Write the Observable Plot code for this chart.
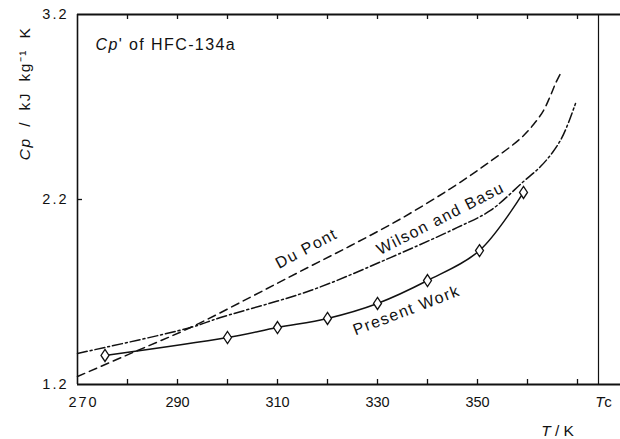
<!DOCTYPE html>
<html>
<head>
<meta charset="utf-8">
<script src="https://cdn.jsdelivr.net/npm/d3@7"></script>
<script src="https://cdn.jsdelivr.net/npm/@observablehq/plot@0.6"></script>
<style>
  html, body { margin: 0; padding: 0; background: #fff; }
  svg { display: block; }
</style>
</head>
<body>
<div id="chart"></div>
<script>
// ---- data ----
const duPontT  = [270, 281, 292.6, 304.6, 314.6, 324.6, 334.6, 344.6, 352, 358.6, 361.2, 363.2, 364.6, 365.6, 366.6];
const duPontCp = [1.243, 1.372, 1.508, 1.672, 1.812, 1.950, 2.095, 2.259, 2.395, 2.53, 2.605, 2.681, 2.762, 2.827, 2.881];

const wilsonT  = [270, 292.6, 298.6, 316.6, 332.6, 346, 352.6, 359.2, 362.6, 365, 366.8, 368.2, 369.6];
const wilsonCp = [1.368, 1.508, 1.562, 1.708, 1.886, 2.049, 2.141, 2.297, 2.378, 2.454, 2.530, 2.616, 2.719];

const presentT  = [275.5, 300, 310, 320, 330, 340, 350.4, 359.2];
const presentCp = [1.357, 1.454, 1.508, 1.557, 1.638, 1.762, 1.924, 2.238];

const Tc = 374.2;
const xMinorTicks = [280, 290, 300, 310, 320, 330, 340, 350, 360, 370];
const xTickLabels = [290, 310, 330, 350];
const xFirstLabel = [270];
const yTicks = [2.2];
const yTickLabels = [1.2, 2.2, 3.2];

const duPont = duPontT.map((t, i) => ({T: t, Cp: duPontCp[i]}));
const wilson = wilsonT.map((t, i) => ({T: t, Cp: wilsonCp[i]}));
const present = presentT.map((t, i) => ({T: t, Cp: presentCp[i]}));

// tall narrow diamond symbol
const tallDiamond = {
  draw(ctx, size) {
    const r = Math.sqrt(size / Math.PI);
    const hw = 0.8 * r, hh = 1.2 * r;
    ctx.moveTo(0, -hh);
    ctx.lineTo(hw, 0);
    ctx.lineTo(0, hh);
    ctx.lineTo(-hw, 0);
    ctx.closePath();
  }
};

const font = "'Liberation Sans', Arial, Helvetica, sans-serif";
const tickStyle = {fontSize: 14.5, fill: "#111", stroke: "none"};

const chart = Plot.plot({
  width: 620,
  height: 439,
  marginLeft: 77,
  marginRight: 0,
  marginTop: 14,
  marginBottom: 55,
  style: {fontFamily: font, background: "#fff", color: "#111"},
  x: {domain: [270, 378.6], axis: null},
  y: {domain: [1.2, 3.2], axis: null},
  marks: [
    // frame
    Plot.ruleY([1.2, 3.2], {stroke: "#111", strokeWidth: 2}),
    Plot.ruleX([270], {stroke: "#111", strokeWidth: 1.6}),
    Plot.ruleX([Tc], {stroke: "#111", strokeWidth: 1.2}),
    // inward ticks
    Plot.tickX(xMinorTicks, {x: d => d, insetTop: 365, stroke: "#111", strokeWidth: 1.3}),
    Plot.tickX(xMinorTicks, {x: d => d, insetBottom: 365, stroke: "#111", strokeWidth: 1.3}),
    Plot.tickY(yTicks, {y: d => d, insetRight: 538, stroke: "#111", strokeWidth: 1.3}),
    // tick labels
    Plot.text(xTickLabels, {x: d => d, frameAnchor: "bottom", dy: 18, lineAnchor: "middle", text: d => String(d), ...tickStyle, style: "letter-spacing:2px"}),
    Plot.text(xFirstLabel, {x: d => d, frameAnchor: "bottom", dx: 6, dy: 18, lineAnchor: "middle", text: d => String(d), ...tickStyle}),
    Plot.text(["Tc"], {x: Tc, frameAnchor: "bottom", dx: 5, dy: 18, lineAnchor: "middle", text: d => d, fontSize: 15, fill: "#111"}),
    Plot.text(yTickLabels, {y: d => d, frameAnchor: "left", dx: -9, textAnchor: "end", lineAnchor: "middle", text: d => d.toFixed(1), ...tickStyle}),
    // axis titles
    Plot.text(["T / K"], {frameAnchor: "bottom-right", dx: -63, dy: 47, lineAnchor: "middle", textAnchor: "middle", text: d => d, fontSize: 15.5, fill: "#111"}),
    Plot.text(["Cp / kJ kg\u207B\u00B9 K"], {frameAnchor: "top-left", dx: -52, dy: 79, rotate: -90, lineAnchor: "middle", textAnchor: "middle", text: d => d, fontSize: 15.5, fill: "#111"}),
    Plot.text(["Cp' of HFC-134a"], {frameAnchor: "top-left", dx: 18, dy: 30, textAnchor: "start", lineAnchor: "middle", text: d => d, fontSize: 16, fill: "#111"}),
    // curves
    Plot.line(duPont, {x: "T", y: "Cp", curve: "catmull-rom", stroke: "#111", strokeWidth: 1.5, strokeDasharray: "8,5"}),
    Plot.line(wilson, {x: "T", y: "Cp", curve: "catmull-rom", stroke: "#111", strokeWidth: 1.5, strokeDasharray: "10,3,2,3"}),
    Plot.line(present, {x: "T", y: "Cp", curve: "catmull-rom", stroke: "#111", strokeWidth: 1.5}),
    Plot.dot(present, {x: "T", y: "Cp", symbol: tallDiamond, r: 5, fill: "#fff", stroke: "#111", strokeWidth: 1.3}),
    // curve labels
    Plot.text(["Du Pont"], {x: 315.8, y: 1.935, rotate: -28, text: d => d, fontSize: 16, fill: "#111"}),
    Plot.text(["Wilson and Basu"], {x: 342.6, y: 2.097, rotate: -27, text: d => d, fontSize: 16, fill: "#111"}),
    Plot.text(["Present Work"], {x: 335.8, y: 1.6, rotate: -21, text: d => d, fontSize: 16, fill: "#111"})
  ]
});

// letter spacing on the text labels to mimic the wide original typesetting
d3.select(chart).selectAll("text").each(function() {
  const t = this.textContent;
  if (["Du Pont", "Wilson and Basu", "Present Work", "Cp' of HFC-134a"].includes(t)) {
    this.setAttribute("letter-spacing", "1.4");
  }
  if (t.startsWith("Cp /")) {
    this.setAttribute("letter-spacing", "1.4");
    this.setAttribute("word-spacing", "5");
  }
  if (["1.2", "2.2", "3.2", "270"].includes(t)) this.setAttribute("letter-spacing", "2");
});

function italicize(svg, full, part) {
  d3.select(svg).selectAll("text").filter(function() { return this.textContent === full; })
    .each(function() {
      const t = d3.select(this);
      t.text(null);
      t.append("tspan").attr("font-style", "italic").text(part);
      t.append("tspan").text(full.slice(part.length));
    });
}
italicize(chart, "Cp' of HFC-134a", "Cp");
italicize(chart, "Cp / kJ kg\u207B\u00B9 K", "Cp");
italicize(chart, "T / K", "T");
italicize(chart, "Tc", "T");

document.getElementById("chart").appendChild(chart);
</script>
</body>
</html>
